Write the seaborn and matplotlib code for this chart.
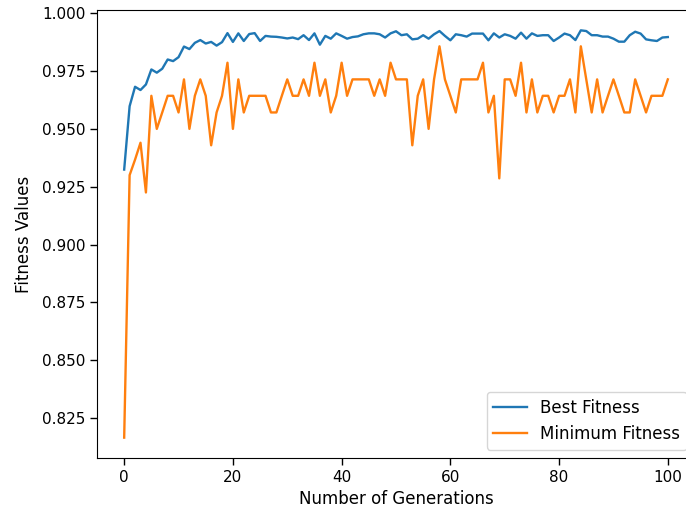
import numpy as np
import pandas as pd
import matplotlib
matplotlib.use("Agg")
import matplotlib.pyplot as plt
import seaborn as sns

# Fitness per generation of the genetic algorithm run
generations = list(range(101))

best_fitness = [
    0.9324, 0.9598, 0.9682, 0.9668, 0.9692, 0.9757, 0.9743, 0.9760, 0.9800, 0.9793,
    0.9810, 0.9856, 0.9845, 0.9872, 0.9884, 0.9869, 0.9876, 0.9860, 0.9875, 0.9914,
    0.9876, 0.9913, 0.9880, 0.9910, 0.9914, 0.9880, 0.9902, 0.9899, 0.9898, 0.9895,
    0.9891, 0.9895, 0.9888, 0.9905, 0.9884, 0.9913, 0.9864, 0.9902, 0.9890, 0.9913,
    0.9902, 0.9890, 0.9897, 0.9900, 0.9909, 0.9913, 0.9913, 0.9909, 0.9895, 0.9913,
    0.9922, 0.9905, 0.9909, 0.9887, 0.9890, 0.9905, 0.9890, 0.9909, 0.9923, 0.9902,
    0.9883, 0.9909, 0.9905, 0.9899, 0.9912, 0.9912, 0.9912, 0.9883, 0.9913, 0.9895,
    0.9909, 0.9902, 0.9890, 0.9916, 0.9890, 0.9913, 0.9902, 0.9905, 0.9905, 0.9880,
    0.9895, 0.9912, 0.9905, 0.9884, 0.9926, 0.9923, 0.9905, 0.9905, 0.9899, 0.9899,
    0.9890, 0.9877, 0.9877, 0.9905, 0.9920, 0.9912, 0.9887, 0.9883, 0.9880, 0.9895,
    0.9897,
]

minimum_fitness = [
    0.8165, 0.9300, 0.9367, 0.9440, 0.9225, 0.9643, 0.9500, 0.9571, 0.9643, 0.9643,
    0.9571, 0.9714, 0.9500, 0.9643, 0.9714, 0.9643, 0.9429, 0.9571, 0.9643, 0.9786,
    0.9500, 0.9714, 0.9571, 0.9643, 0.9643, 0.9643, 0.9643, 0.9571, 0.9571, 0.9643,
    0.9714, 0.9643, 0.9643, 0.9714, 0.9643, 0.9786, 0.9643, 0.9714, 0.9571, 0.9643,
    0.9786, 0.9643, 0.9714, 0.9714, 0.9714, 0.9714, 0.9643, 0.9714, 0.9643, 0.9786,
    0.9714, 0.9714, 0.9714, 0.9429, 0.9643, 0.9714, 0.9500, 0.9714, 0.9857, 0.9714,
    0.9643, 0.9571, 0.9714, 0.9714, 0.9714, 0.9714, 0.9786, 0.9571, 0.9643, 0.9286,
    0.9714, 0.9714, 0.9643, 0.9786, 0.9571, 0.9714, 0.9571, 0.9643, 0.9643, 0.9571,
    0.9643, 0.9643, 0.9714, 0.9571, 0.9857, 0.9714, 0.9571, 0.9714, 0.9571, 0.9643,
    0.9714, 0.9643, 0.9571, 0.9571, 0.9714, 0.9643, 0.9571, 0.9643, 0.9643, 0.9643,
    0.9714,
]

series_labels = ["Best Fitness", "Minimum Fitness"]
series_colors = ["#1f77b4", "#ff7f0e"]

df = pd.DataFrame({
    "generation": generations,
    "best": best_fitness,
    "minimum": minimum_fitness,
})

fig = plt.figure(figsize=(6.86, 5.12), dpi=100)
# the plotting area runs slightly past the right edge of the canvas
ax = fig.add_axes([0.1414, 0.1055, 0.8717, 0.875])

for col, label, color in zip(["best", "minimum"], series_labels, series_colors):
    sns.lineplot(data=df, x="generation", y=col, ax=ax, label=label,
                 color=color, linewidth=1.7)

ax.spines["right"].set_visible(False)
ax.set_xticks([0, 20, 40, 60, 80, 100])
ax.set_yticks([0.825, 0.850, 0.875, 0.900, 0.925, 0.950, 0.975, 1.000])
ax.yaxis.set_major_formatter(matplotlib.ticker.FormatStrFormatter("%.3f"))
ax.tick_params(labelsize=11, length=5, width=1)
ax.set_xlabel("Number of Generations", fontsize=12)
ax.set_ylabel("Fitness Values", fontsize=12, labelpad=6)
ax.legend(loc="lower right", fontsize=12)

fig.savefig("out.png", dpi=100)
